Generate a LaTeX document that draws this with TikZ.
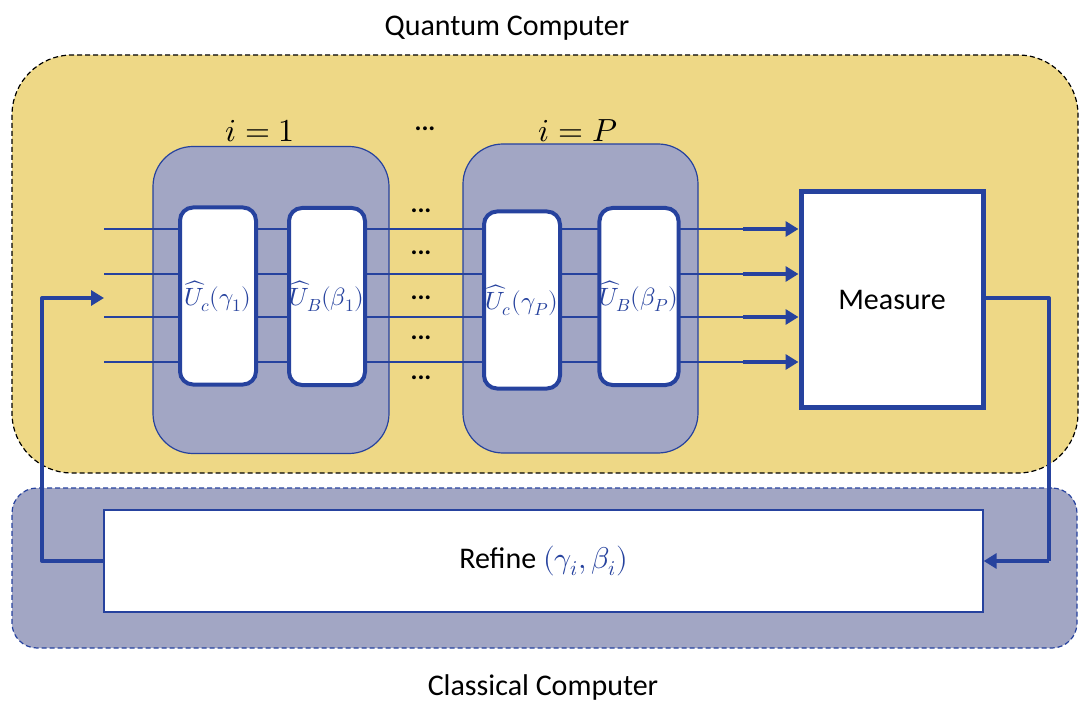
\documentclass[tikz,border=0pt]{standalone}
\usepackage{fontspec}
\usepackage{unicode-math}
\setmainfont{Carlito}
\setmathfont{Latin Modern Math}
\usetikzlibrary{arrows.meta}
\definecolor{qyellow}{RGB}{238,216,134}
\definecolor{lav}{RGB}{162,166,196}
\definecolor{qblue}{RGB}{38,66,158}
\tikzset{
  qcbox/.style={draw=black, fill=qyellow, dash pattern=on 5pt off 3pt, line width=1.2pt, rounded corners=60pt, minimum width=1066pt, minimum height=418pt},
  ccbox/.style={draw=qblue, fill=lav, dash pattern=on 5pt off 3pt, line width=1.2pt, rounded corners=25pt, minimum width=1065pt, minimum height=160pt},
  blk/.style={draw=qblue, fill=lav, line width=1.2pt, rounded corners=40pt, minimum width=236pt, minimum height=307pt},
  gate/.style={draw=qblue, fill=white, line width=4pt, rounded corners=13pt, minimum width=76pt, minimum height=177pt, inner sep=0pt, text=qblue, font=\fontsize{25}{29}\selectfont},
  wire/.style={draw=qblue, line width=1.3pt},
  thickarr/.style={draw=qblue, line width=4pt, -{Triangle[length=13pt,width=15pt]}},
  thickln/.style={draw=qblue, line width=4pt},
  lbl/.style={font=\fontsize{30}{36}\selectfont},
  mlbl/.style={font=\fontsize{32}{38}\selectfont},
  dotsl/.style={font=\fontsize{26}{30}\selectfont\bfseries, inner sep=0pt},
}
\begin{document}
\begin{tikzpicture}[x=1pt, y=-1pt]
\useasboundingbox (0,0) rectangle (1081,708);
% containers
\node[qcbox] (qc) at (545,264) {};
\node[ccbox] (cc) at (544.5,568) {};
\node[lbl] (qclabel) at (507,28) {Quantum Computer};
\node[lbl] (cclabel) at (543,687) {Classical Computer};
% blocks
\node[blk] (blk1) at (271,300) {};
\node[blk, minimum width=235pt, minimum height=309pt] (blk2) at (580.5,298.5) {};
\node[mlbl] (ione) at (260,131) {$i=1$};
\node[mlbl] (iP) at (578,131) {$i=P$};
% wires
\foreach \n/\yy in {1/229,2/274,3/317,4/362}{
  \coordinate (ws\n) at (104,\yy);
  \coordinate (we\n) at (743,\yy);
  \draw[wire] (ws\n) -- (we\n);
}
% gates
\node[gate] (g1) at (218,296) {$\widehat{U}_c(\gamma_1)$};
\node[gate] (g2) at (327,296.5) {$\widehat{U}_B(\beta_1)$};
\node[gate] (g3) at (522,300) {$\widehat{U}_c(\gamma_P)$};
\node[gate] (g4) at (639,296.5) {$\widehat{U}_B(\beta_P)$};
% dots
\node[dotsl] (dtop) at (425,129) {...};
\foreach \n/\yy in {1/211,2/253,3/298,4/338,5/378}{
  \node[dotsl] (d\n) at (421,\yy) {...};
}
% measure
\node[draw=qblue, fill=white, line width=5pt, minimum width=182pt, minimum height=215pt, lbl] (meas) at (892,299.5) {Measure};
\foreach \n in {1,2,3,4}{
  \draw[thickarr] (we\n) -- (meas.west |- we\n);
}
% refine
\node[draw=qblue, fill=white, line width=1.3pt, minimum width=879pt, minimum height=102pt, lbl] (refine) at (543.5,561) {Refine \textcolor{qblue}{$(\gamma_i,\beta_i)$}};
% feedback
\coordinate (rc1) at (1049,298);
\coordinate (rc2) at (1049,561);
\draw[thickln, line join=round] (meas.east |- rc1) -- (rc1) -- (rc2);
\draw[thickarr] (rc2) -- (refine.east);
\coordinate (lc1) at (42,561);
\coordinate (lin) at (104,298);
\draw[thickarr, line join=round] (refine.west) -- (lc1) |- (lin);
\end{tikzpicture}
\end{document}
